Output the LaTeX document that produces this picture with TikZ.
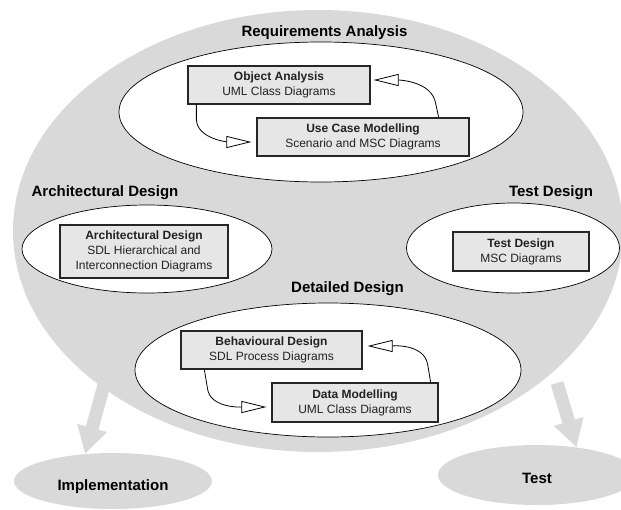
\documentclass[tikz,border=0pt]{standalone}
\usepackage{fontspec}
\setmainfont{Liberation Sans}
\usetikzlibrary{shapes.geometric,arrows.meta}
\definecolor{bandgrey}{HTML}{D9D9D9}
\definecolor{boxgrey}{HTML}{E6E6E6}
\definecolor{txtgrey}{HTML}{222222}
\begin{document}
\begin{tikzpicture}[x=1pt,y=-1pt,
  band/.style={ellipse, fill=bandgrey, inner sep=0pt},
  zone/.style={ellipse, draw=black, line width=0.7pt, fill=white, inner sep=0pt},
  stage/.style={draw=black!85, line width=1.3pt, fill=boxgrey, inner sep=0pt, align=center, text=txtgrey, font=\fontsize{12}{15}\selectfont},
  heading/.style={font=\fontsize{15}{18}\selectfont\bfseries, anchor=base},
  conn/.style={line width=0.8pt, -{Triangle[length=25pt,width=12pt,fill=white]}},
  flow/.style={draw=bandgrey, line width=13pt, -{Triangle[length=27pt,width=29pt,fill=bandgrey]}}]
\useasboundingbox (0,0) rectangle (621,509);
\clip (0,0) rectangle (621,509);
% big grey region
\node[band, minimum width=610pt, minimum height=442pt] (big) at (318,231) {};
% outcomes
\node[band, minimum width=198pt, minimum height=56pt] (impl) at (113,481) {};
\node[band, minimum width=198pt, minimum height=60pt] (testout) at (537,475) {};
\coordinate (implfrom) at (104,385);
\coordinate (testfrom) at (557,383);
\draw[flow] (implfrom) -- (impl.136);
\draw[flow] (testfrom) -- (testout.35);
% zones
\node[zone, minimum width=404pt, minimum height=140pt] (req) at (321,112) {};
\node[zone, minimum width=250pt, minimum height=88pt] (arch) at (147,249) {};
\node[zone, minimum width=213pt, minimum height=90pt] (testz) at (513,248) {};
\node[zone, minimum width=386pt, minimum height=134pt] (det) at (328,370) {};
% stages
\node[stage, minimum width=182pt, minimum height=38pt] (oa) at (279,85) {\textbf{Object Analysis}\\UML Class Diagrams};
\node[stage, minimum width=212pt, minimum height=38pt] (uc) at (363,137) {\textbf{Use Case Modelling}\\Scenario and MSC Diagrams};
\node[stage, minimum width=168pt, minimum height=53pt] (ad) at (144,251.5) {\textbf{Architectural Design}\\SDL Hierarchical and\\Interconnection Diagrams};
\node[stage, minimum width=136pt, minimum height=39pt] (td) at (521,251.5) {\textbf{Test Design}\\MSC Diagrams};
\node[stage, minimum width=181pt, minimum height=38pt] (beh) at (271.5,350) {\textbf{Behavioural Design}\\SDL Process Diagrams};
\node[stage, minimum width=166pt, minimum height=39pt] (dm) at (355,402.5) {\textbf{Data Modelling}\\UML Class Diagrams};
% connectors
\draw[conn] ([xshift=9pt]oa.south west) -- ++(0,14) to[out=-90,in=180,looseness=0.9] ([xshift=-5pt,yshift=-5pt]uc.west);
\draw[conn] ([xshift=-31pt]uc.north east) -- ++(-3,-14) to[out=100,in=0,looseness=0.9] ([xshift=3pt,yshift=5pt]oa.east);
\draw[conn] ([xshift=24pt]beh.south west) -- ++(3,18) to[out=-85,in=180,looseness=0.9] ([xshift=-5pt,yshift=-4.5pt]dm.west);
\draw[conn] ([xshift=-8pt]dm.north east) -- ++(-3,-18) to[out=100,in=0,looseness=0.9] ([xshift=5pt,yshift=4pt]beh.east);
% headings
\node[heading] (hreq) at (324.5,36) {Requirements Analysis};
\node[heading] (harch) at (105,196) {Architectural Design};
\node[heading] (htest) at (551,196) {Test Design};
\node[heading] (hdet) at (347.5,292) {Detailed Design};
\node[heading] (himpl) at (113,490) {Implementation};
\node[heading] (htestout) at (537,483) {Test};
\end{tikzpicture}
\end{document}
